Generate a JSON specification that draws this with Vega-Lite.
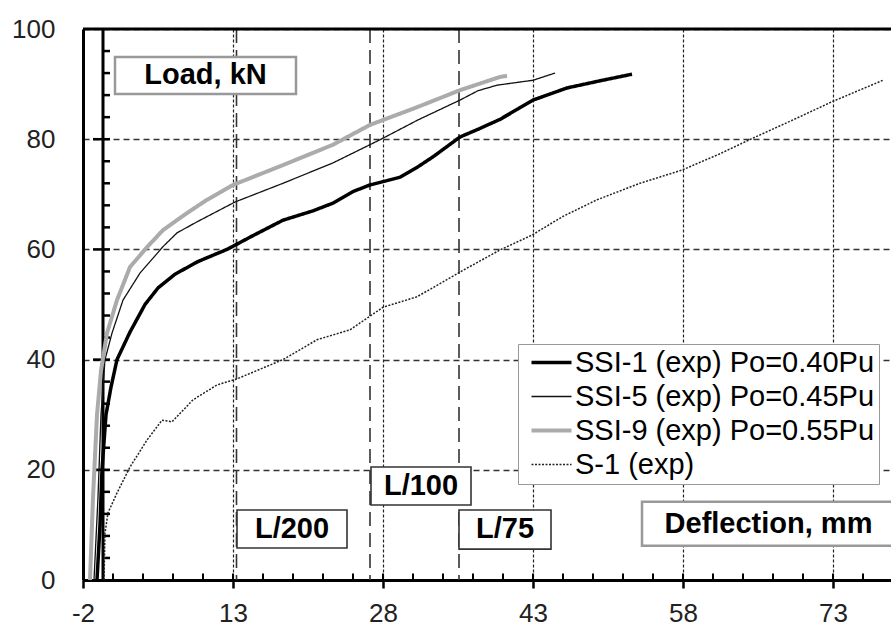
{
  "$schema": "https://vega.github.io/schema/vega-lite/v6.json",
  "width": 808,
  "height": 551,
  "autosize": {"type": "none"},
  "padding": {"left": 83, "top": 29, "right": 0, "bottom": 46},
  "background": "white",
  "config": {"font": "Liberation Sans", "view": {"stroke": null}},
  "datasets": {
    "curves": [
      {"s": "SSI-1 (exp) Po=0.40Pu", "x": -0.6, "y": 0},
      {"s": "SSI-1 (exp) Po=0.40Pu", "x": -0.3, "y": 10},
      {"s": "SSI-1 (exp) Po=0.40Pu", "x": -0.1, "y": 20},
      {"s": "SSI-1 (exp) Po=0.40Pu", "x": 0.3, "y": 30},
      {"s": "SSI-1 (exp) Po=0.40Pu", "x": 0.8, "y": 35},
      {"s": "SSI-1 (exp) Po=0.40Pu", "x": 1.4, "y": 40},
      {"s": "SSI-1 (exp) Po=0.40Pu", "x": 2.7, "y": 45},
      {"s": "SSI-1 (exp) Po=0.40Pu", "x": 4.2, "y": 50},
      {"s": "SSI-1 (exp) Po=0.40Pu", "x": 5.5, "y": 53},
      {"s": "SSI-1 (exp) Po=0.40Pu", "x": 7.2, "y": 55.5},
      {"s": "SSI-1 (exp) Po=0.40Pu", "x": 9.5, "y": 57.8},
      {"s": "SSI-1 (exp) Po=0.40Pu", "x": 12.4, "y": 60},
      {"s": "SSI-1 (exp) Po=0.40Pu", "x": 15, "y": 62.5},
      {"s": "SSI-1 (exp) Po=0.40Pu", "x": 18, "y": 65.3},
      {"s": "SSI-1 (exp) Po=0.40Pu", "x": 21, "y": 67},
      {"s": "SSI-1 (exp) Po=0.40Pu", "x": 23, "y": 68.4},
      {"s": "SSI-1 (exp) Po=0.40Pu", "x": 25, "y": 70.5},
      {"s": "SSI-1 (exp) Po=0.40Pu", "x": 26.7, "y": 71.7},
      {"s": "SSI-1 (exp) Po=0.40Pu", "x": 29.7, "y": 73.1},
      {"s": "SSI-1 (exp) Po=0.40Pu", "x": 31.5, "y": 75},
      {"s": "SSI-1 (exp) Po=0.40Pu", "x": 33, "y": 76.8},
      {"s": "SSI-1 (exp) Po=0.40Pu", "x": 35.7, "y": 80.4},
      {"s": "SSI-1 (exp) Po=0.40Pu", "x": 37.5, "y": 81.8},
      {"s": "SSI-1 (exp) Po=0.40Pu", "x": 39.7, "y": 83.6},
      {"s": "SSI-1 (exp) Po=0.40Pu", "x": 41.5, "y": 85.5},
      {"s": "SSI-1 (exp) Po=0.40Pu", "x": 43, "y": 87.1},
      {"s": "SSI-1 (exp) Po=0.40Pu", "x": 46.4, "y": 89.3},
      {"s": "SSI-1 (exp) Po=0.40Pu", "x": 49.7, "y": 90.6},
      {"s": "SSI-1 (exp) Po=0.40Pu", "x": 52.9, "y": 91.8},
      {"s": "SSI-5 (exp) Po=0.45Pu", "x": -0.9, "y": 0},
      {"s": "SSI-5 (exp) Po=0.45Pu", "x": -0.5, "y": 15},
      {"s": "SSI-5 (exp) Po=0.45Pu", "x": -0.2, "y": 30},
      {"s": "SSI-5 (exp) Po=0.45Pu", "x": 0.2, "y": 40},
      {"s": "SSI-5 (exp) Po=0.45Pu", "x": 0.9, "y": 44.8},
      {"s": "SSI-5 (exp) Po=0.45Pu", "x": 2.0, "y": 50.8},
      {"s": "SSI-5 (exp) Po=0.45Pu", "x": 3.7, "y": 55.7},
      {"s": "SSI-5 (exp) Po=0.45Pu", "x": 6.0, "y": 60.5},
      {"s": "SSI-5 (exp) Po=0.45Pu", "x": 7.4, "y": 63},
      {"s": "SSI-5 (exp) Po=0.45Pu", "x": 9.4, "y": 65},
      {"s": "SSI-5 (exp) Po=0.45Pu", "x": 13.2, "y": 68.6},
      {"s": "SSI-5 (exp) Po=0.45Pu", "x": 18, "y": 72},
      {"s": "SSI-5 (exp) Po=0.45Pu", "x": 23, "y": 75.7},
      {"s": "SSI-5 (exp) Po=0.45Pu", "x": 27.7, "y": 79.9},
      {"s": "SSI-5 (exp) Po=0.45Pu", "x": 31.5, "y": 83.5},
      {"s": "SSI-5 (exp) Po=0.45Pu", "x": 35.7, "y": 87.1},
      {"s": "SSI-5 (exp) Po=0.45Pu", "x": 37.5, "y": 88.8},
      {"s": "SSI-5 (exp) Po=0.45Pu", "x": 39.4, "y": 89.8},
      {"s": "SSI-5 (exp) Po=0.45Pu", "x": 41, "y": 90.2},
      {"s": "SSI-5 (exp) Po=0.45Pu", "x": 43, "y": 90.7},
      {"s": "SSI-5 (exp) Po=0.45Pu", "x": 45.2, "y": 92},
      {"s": "SSI-9 (exp) Po=0.55Pu", "x": -1.3, "y": 0},
      {"s": "SSI-9 (exp) Po=0.55Pu", "x": -1.0, "y": 15},
      {"s": "SSI-9 (exp) Po=0.55Pu", "x": -0.6, "y": 30},
      {"s": "SSI-9 (exp) Po=0.55Pu", "x": -0.2, "y": 38},
      {"s": "SSI-9 (exp) Po=0.55Pu", "x": 0.4, "y": 44.8},
      {"s": "SSI-9 (exp) Po=0.55Pu", "x": 1.4, "y": 50.8},
      {"s": "SSI-9 (exp) Po=0.55Pu", "x": 2.7, "y": 56.8},
      {"s": "SSI-9 (exp) Po=0.55Pu", "x": 4.4, "y": 60.4},
      {"s": "SSI-9 (exp) Po=0.55Pu", "x": 6.0, "y": 63.5},
      {"s": "SSI-9 (exp) Po=0.55Pu", "x": 8.4, "y": 66.6},
      {"s": "SSI-9 (exp) Po=0.55Pu", "x": 10.4, "y": 69},
      {"s": "SSI-9 (exp) Po=0.55Pu", "x": 13, "y": 71.7},
      {"s": "SSI-9 (exp) Po=0.55Pu", "x": 18, "y": 75.3},
      {"s": "SSI-9 (exp) Po=0.55Pu", "x": 23, "y": 79},
      {"s": "SSI-9 (exp) Po=0.55Pu", "x": 26.7, "y": 82.6},
      {"s": "SSI-9 (exp) Po=0.55Pu", "x": 31.4, "y": 85.8},
      {"s": "SSI-9 (exp) Po=0.55Pu", "x": 35.7, "y": 88.9},
      {"s": "SSI-9 (exp) Po=0.55Pu", "x": 39.7, "y": 91.3},
      {"s": "SSI-9 (exp) Po=0.55Pu", "x": 40.4, "y": 91.5},
      {"s": "S-1 (exp)", "x": 0.1, "y": 0},
      {"s": "S-1 (exp)", "x": 0.2, "y": 8.5},
      {"s": "S-1 (exp)", "x": 0.5, "y": 12.2},
      {"s": "S-1 (exp)", "x": 1.4, "y": 15.8},
      {"s": "S-1 (exp)", "x": 2.7, "y": 20.5},
      {"s": "S-1 (exp)", "x": 4.4, "y": 25.4},
      {"s": "S-1 (exp)", "x": 5.9, "y": 29},
      {"s": "S-1 (exp)", "x": 6.9, "y": 28.7},
      {"s": "S-1 (exp)", "x": 9.0, "y": 32.7},
      {"s": "S-1 (exp)", "x": 11.4, "y": 35.4},
      {"s": "S-1 (exp)", "x": 13.4, "y": 36.5},
      {"s": "S-1 (exp)", "x": 18, "y": 40},
      {"s": "S-1 (exp)", "x": 21.4, "y": 43.6},
      {"s": "S-1 (exp)", "x": 24.7, "y": 45.4},
      {"s": "S-1 (exp)", "x": 28, "y": 49.5},
      {"s": "S-1 (exp)", "x": 31.4, "y": 51.4},
      {"s": "S-1 (exp)", "x": 35.7, "y": 55.9},
      {"s": "S-1 (exp)", "x": 39.7, "y": 59.9},
      {"s": "S-1 (exp)", "x": 42.9, "y": 62.6},
      {"s": "S-1 (exp)", "x": 46, "y": 66},
      {"s": "S-1 (exp)", "x": 49.4, "y": 69},
      {"s": "S-1 (exp)", "x": 53.7, "y": 72},
      {"s": "S-1 (exp)", "x": 57.9, "y": 74.4},
      {"s": "S-1 (exp)", "x": 61.5, "y": 77.2},
      {"s": "S-1 (exp)", "x": 65, "y": 80.2},
      {"s": "S-1 (exp)", "x": 69, "y": 83.5},
      {"s": "S-1 (exp)", "x": 72.9, "y": 86.8},
      {"s": "S-1 (exp)", "x": 78, "y": 90.7}
    ],
    "limits": [
      {"L": "L/200", "x": 13.35},
      {"L": "L/100", "x": 26.7},
      {"L": "L/75", "x": 35.6}
    ],
    "yminor": [
      {"v": 4}, {"v": 8}, {"v": 12}, {"v": 16}, {"v": 24}, {"v": 28}, {"v": 32}, {"v": 36},
      {"v": 44}, {"v": 48}, {"v": 52}, {"v": 56}, {"v": 64}, {"v": 68}, {"v": 72}, {"v": 76},
      {"v": 84}, {"v": 88}, {"v": 92}, {"v": 96}
    ],
    "ymajor": [{"v": 20}, {"v": 40}, {"v": 60}, {"v": 80}],
    "xticks": [
      {"v": 1}, {"v": 4}, {"v": 7}, {"v": 10}, {"v": 13}, {"v": 16}, {"v": 19}, {"v": 22}, {"v": 25},
      {"v": 28}, {"v": 31}, {"v": 34}, {"v": 37}, {"v": 40}, {"v": 43}, {"v": 46}, {"v": 49}, {"v": 52},
      {"v": 55}, {"v": 58}, {"v": 61}, {"v": 64}, {"v": 67}, {"v": 70}, {"v": 73}, {"v": 76}
    ],
    "notes": [
      {"t": "Load, kN", "kind": "title", "x1": 1.2, "x2": 19.3, "y1": 88.2, "y2": 94.9, "tx": 10.25, "ty": 91.6},
      {"t": "Deflection, mm", "kind": "title", "x1": 53.9, "x2": 80, "y1": 6.2, "y2": 14.2, "tx": 66.55, "ty": 10.2},
      {"t": "L/200", "kind": "limit", "x1": 13.4, "x2": 24.4, "y1": 5.8, "y2": 12.7, "tx": 18.9, "ty": 9.25},
      {"t": "L/100", "kind": "limit", "x1": 26.8, "x2": 36.8, "y1": 13.6, "y2": 20.5, "tx": 31.8, "ty": 17.1},
      {"t": "L/75", "kind": "limit", "x1": 35.6, "x2": 44.8, "y1": 5.6, "y2": 12.7, "tx": 40.2, "ty": 9.2}
    ]
  },
  "layer": [
    {
      "data": {"name": "limits"},
      "mark": {"type": "rule", "stroke": "#333", "strokeWidth": 1.6, "strokeDash": [14, 7]},
      "encoding": {
        "x": {"field": "x", "type": "quantitative", "scale": {"domain": [-2, 78.8], "nice": false, "zero": false},
          "axis": {"values": [-2, 13, 28, 43, 58, 73], "title": null, "grid": true, "gridDash": [3, 2], "gridColor": "#222", "gridWidth": 1.2,
            "domainColor": "#000", "domainWidth": 3, "tickColor": "#000", "tickWidth": 2.5, "tickSize": 8,
            "labelExpr": "'' + datum.value",
            "labelFontSize": 26, "labelColor": "#222", "labelPadding": 12, "labelFlush": false, "labelOverlap": false}}
      }
    },
    {
      "data": {"values": [{}]},
      "mark": {"type": "rule", "stroke": "#000", "strokeWidth": 3},
      "encoding": {
        "x": {"datum": 0, "type": "quantitative", "scale": {"domain": [-2, 78.8], "nice": false, "zero": false}}
      }
    },
    {
      "data": {"values": [{}]},
      "mark": {"type": "rule", "stroke": "#000", "strokeWidth": 3},
      "encoding": {
        "y": {"datum": 100, "type": "quantitative", "scale": {"domain": [0, 100], "nice": false, "zero": false},
          "axis": {"values": [0, 20, 40, 60, 80, 100], "title": null, "grid": true, "gridDash": [6, 4], "gridColor": "#333", "gridWidth": 1.3,
            "ticks": false, "labelPadding": 28, "labelFontSize": 26, "labelColor": "#222", "domainColor": "#000", "domainWidth": 3}}
      }
    },
    {
      "data": {"name": "yminor"},
      "mark": {"type": "rule", "stroke": "#000", "strokeWidth": 2.5},
      "encoding": {
        "y": {"field": "v", "type": "quantitative", "scale": {"domain": [0, 100], "nice": false, "zero": false}},
        "x": {"datum": 0, "type": "quantitative", "scale": {"domain": [-2, 78.8], "nice": false, "zero": false}},
        "x2": {"datum": 0.7}
      }
    },
    {
      "data": {"name": "ymajor"},
      "mark": {"type": "rule", "stroke": "#000", "strokeWidth": 2.5},
      "encoding": {
        "y": {"field": "v", "type": "quantitative", "scale": {"domain": [0, 100], "nice": false, "zero": false}},
        "x": {"datum": -1, "type": "quantitative", "scale": {"domain": [-2, 78.8], "nice": false, "zero": false}},
        "x2": {"datum": 0.7}
      }
    },
    {
      "data": {"name": "xticks"},
      "mark": {"type": "rule", "stroke": "#000", "strokeWidth": 2},
      "encoding": {
        "x": {"field": "v", "type": "quantitative", "scale": {"domain": [-2, 78.8], "nice": false, "zero": false}},
        "y": {"datum": 0, "type": "quantitative", "scale": {"domain": [0, 100], "nice": false, "zero": false}},
        "y2": {"datum": 1.2}
      }
    },
    {
      "data": {"name": "curves"},
      "mark": {"type": "line", "clip": true},
      "encoding": {
        "x": {"field": "x", "type": "quantitative", "scale": {"domain": [-2, 78.8], "nice": false, "zero": false}},
        "y": {"field": "y", "type": "quantitative", "scale": {"domain": [0, 100], "nice": false, "zero": false}},
        "color": {"field": "s", "type": "nominal",
          "scale": {"domain": ["SSI-1 (exp) Po=0.40Pu", "SSI-5 (exp) Po=0.45Pu", "SSI-9 (exp) Po=0.55Pu", "S-1 (exp)"], "range": ["#000000", "#111111", "#ababab", "#222222"]},
          "legend": {"title": null, "orient": "none", "legendX": 435, "legendY": 315, "direction": "vertical",
            "fillColor": "#ffffff", "strokeColor": "#999999", "padding": 4, "symbolOffset": 15, "symbolSize": 400,
            "symbolType": "M-2,0H2", "labelFontSize": 29, "labelColor": "#000", "labelLimit": 600, "labelOffset": 9, "rowPadding": 4}},
        "strokeWidth": {"field": "s", "type": "nominal",
          "scale": {"type": "ordinal", "domain": ["SSI-1 (exp) Po=0.40Pu", "SSI-5 (exp) Po=0.45Pu", "SSI-9 (exp) Po=0.55Pu", "S-1 (exp)"], "range": [3.5, 1.3, 4, 1.5]}},
        "strokeDash": {"field": "s", "type": "nominal",
          "scale": {"domain": ["SSI-1 (exp) Po=0.40Pu", "SSI-5 (exp) Po=0.45Pu", "SSI-9 (exp) Po=0.55Pu", "S-1 (exp)"], "range": [[1, 0], [1, 0], [1, 0], [2, 1.5]]}}
      }
    },
    {
      "data": {"name": "notes"},
      "transform": [{"filter": "datum.kind == 'title'"}],
      "mark": {"type": "rect", "fill": "#ffffff", "stroke": "#999999", "strokeWidth": 2.5},
      "encoding": {
        "x": {"field": "x1", "type": "quantitative", "scale": {"domain": [-2, 78.8], "nice": false, "zero": false}},
        "x2": {"field": "x2"},
        "y": {"field": "y1", "type": "quantitative", "scale": {"domain": [0, 100], "nice": false, "zero": false}},
        "y2": {"field": "y2"}
      }
    },
    {
      "data": {"name": "notes"},
      "transform": [{"filter": "datum.kind == 'limit'"}],
      "mark": {"type": "rect", "fill": "#ffffff", "stroke": "#333333", "strokeWidth": 1.6},
      "encoding": {
        "x": {"field": "x1", "type": "quantitative", "scale": {"domain": [-2, 78.8], "nice": false, "zero": false}},
        "x2": {"field": "x2"},
        "y": {"field": "y1", "type": "quantitative", "scale": {"domain": [0, 100], "nice": false, "zero": false}},
        "y2": {"field": "y2"}
      }
    },
    {
      "data": {"name": "notes"},
      "mark": {"type": "text", "fontSize": 29, "fontWeight": "bold", "color": "#000", "align": "center", "baseline": "middle"},
      "encoding": {
        "x": {"field": "tx", "type": "quantitative", "scale": {"domain": [-2, 78.8], "nice": false, "zero": false}},
        "y": {"field": "ty", "type": "quantitative", "scale": {"domain": [0, 100], "nice": false, "zero": false}},
        "text": {"field": "t"}
      }
    }
  ]
}
